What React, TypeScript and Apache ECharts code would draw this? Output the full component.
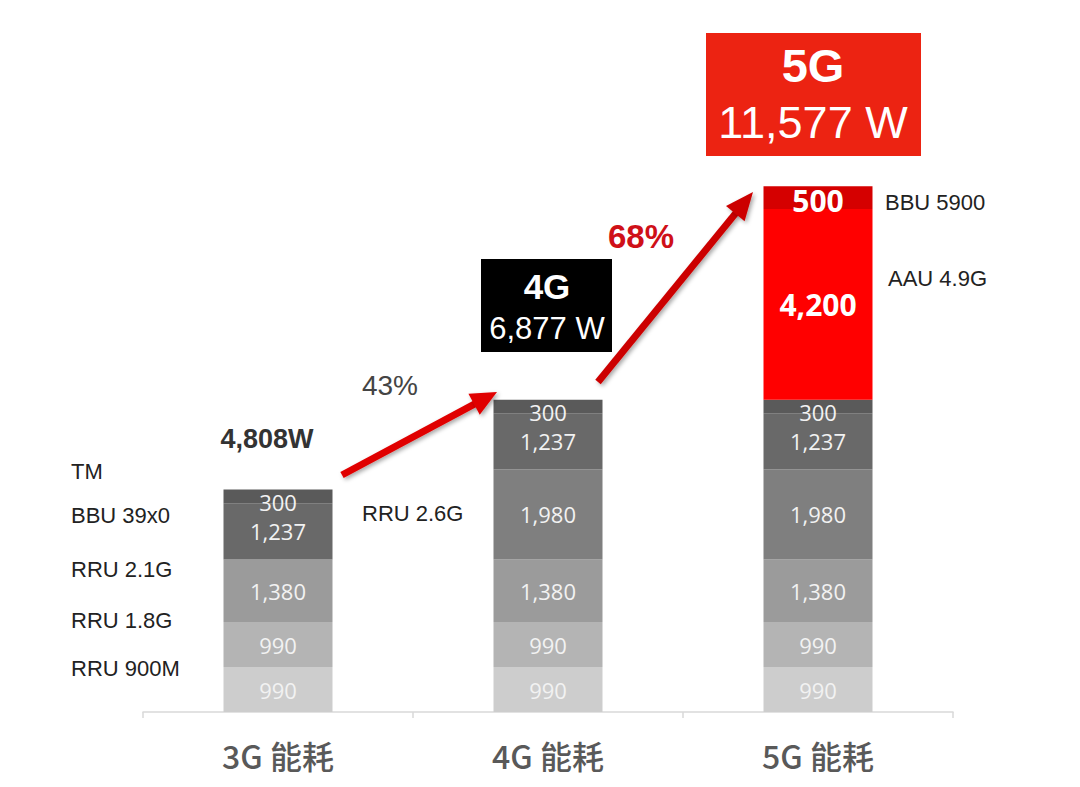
import React, { useEffect, useRef } from "react";
import * as echarts from "echarts";

const categories = ["3G 能耗", "4G 能耗", "5G 能耗"];
const rru900m = [990, 990, 990];
const rru18g = [990, 990, 990];
const rru21g = [1380, 1380, 1380];
const rru26g: (number | string)[] = ["-", 1980, 1980];
const bbu39x0 = [1237, 1237, 1237];
const tm = [300, 300, 300];
const aau49g: (number | string)[] = ["-", "-", 4200];
const bbu5900: (number | string)[] = ["-", "-", 500];

const BAR_FONT = "'Open Sans', 'Liberation Sans', sans-serif";
const SIDE_FONT = "'Liberation Sans', Arial, sans-serif";

function txt(text: string, x: number, y: number, font: string, fill: string, align = "left") {
  return {
    type: "text",
    z: 20,
    style: {
      text,
      x,
      y,
      font,
      fill,
      align,
      verticalAlign: "middle",
      textAlign: align,
      textVerticalAlign: "middle",
    },
  };
}

function arrow(x1: number, y1: number, x2: number, y2: number, color: string, w: number, headLen: number, headW: number) {
  const dx = x2 - x1;
  const dy = y2 - y1;
  const L = Math.hypot(dx, dy);
  const ux = dx / L;
  const uy = dy / L;
  const bx = x2 - ux * headLen;
  const by = y2 - uy * headLen;
  const px = -uy;
  const py = ux;
  const shadow = { shadowBlur: 4, shadowColor: "rgba(0,0,0,0.35)", shadowOffsetX: 2, shadowOffsetY: 2 };
  return [
    {
      type: "line",
      z: 15,
      shape: { x1, y1, x2: bx + ux * 3, y2: by + uy * 3 },
      style: { stroke: color, lineWidth: w, ...shadow },
    },
    {
      type: "polygon",
      z: 15,
      shape: {
        points: [
          [x2, y2],
          [bx + px * headW, by + py * headW],
          [bx - px * headW, by - py * headW],
        ],
      },
      style: { fill: color, ...shadow },
    },
  ];
}

function seg(name: string, data: (number | string)[], color: string, opts: any = {}) {
  return {
    name,
    type: "bar",
    stack: "total",
    barWidth: 109,
    data,
    itemStyle: { color },
    label: {
      show: true,
      position: "inside",
      color: "#f2f2f2",
      fontFamily: BAR_FONT,
      fontSize: 22,
      formatter: (p: any) => Number(p.value).toLocaleString("en-US"),
      ...(opts.label || {}),
    },
  };
}

export default function App() {
  const ref = useRef<HTMLDivElement>(null);
  useEffect(() => {
    document.body.style.margin = "0";
    if (!ref.current) return;
    const chart = echarts.init(ref.current, undefined, { renderer: "svg" });
    chart.setOption({
      animation: false,
      backgroundColor: "#ffffff",
      grid: { left: 143, right: 127, top: 167, bottom: 75 },
      xAxis: {
        type: "category",
        data: categories,
        axisLine: { lineStyle: { color: "#d9d9d9", width: 1.5 } },
        axisTick: { show: true, length: 6, lineStyle: { color: "#d9d9d9", width: 1.5 } },
        axisLabel: {
          color: "#595959",
          fontSize: 32,
          fontWeight: 500,
          fontFamily: "'Noto Sans CJK SC', sans-serif",
          margin: 27,
        },
      },
      yAxis: { type: "value", min: 0, max: 12000, show: false, splitLine: { show: false } },
      series: [
        seg("RRU 900M", rru900m, "#cdcdcd"),
        seg("RRU 1.8G", rru18g, "#b4b4b4"),
        seg("RRU 2.1G", rru21g, "#9b9b9b"),
        seg("RRU 2.6G", rru26g, "#7f7f7f"),
        seg("BBU 39x0", bbu39x0, "#696969"),
        seg("TM", tm, "#5a5a5a", { label: { offset: [0, 6] } }),
        seg("AAU 4.9G", aau49g, "#ff0000", { label: { fontSize: 30, fontWeight: "bold", color: "#ffffff" } }),
        seg("BBU 5900", bbu5900, "#d50000", { label: { fontSize: 30, fontWeight: "bold", color: "#ffffff", offset: [0, 3] } }),
      ],
      graphic: [
        // side labels
        txt("TM", 71, 471, `22px ${SIDE_FONT}`, "#222222"),
        txt("BBU 39x0", 71, 515, `22px ${SIDE_FONT}`, "#222222"),
        txt("RRU 2.1G", 71, 569, `22px ${SIDE_FONT}`, "#222222"),
        txt("RRU 1.8G", 71, 620, `22px ${SIDE_FONT}`, "#222222"),
        txt("RRU 900M", 71, 668, `22px ${SIDE_FONT}`, "#222222"),
        txt("RRU 2.6G", 362, 513, `22px ${SIDE_FONT}`, "#222222"),
        txt("BBU 5900", 885, 202, `22px ${SIDE_FONT}`, "#222222"),
        txt("AAU 4.9G", 888, 278, `22px ${SIDE_FONT}`, "#222222"),
        // totals & growth
        txt("4,808W", 267, 439, `bold 27px ${SIDE_FONT}`, "#333333", "center"),
        txt("43%", 390, 385, `28px ${SIDE_FONT}`, "#444444", "center"),
        txt("68%", 641, 236, `bold 33px ${SIDE_FONT}`, "#cf1018", "center"),
        // arrows
        ...arrow(342, 475, 497, 392, "#e00000", 7, 26, 12),
        ...arrow(598, 382, 753, 192, "#cc0000", 7, 28, 12),
        // 4G box
        {
          type: "rect",
          z: 18,
          shape: { x: 481, y: 259, width: 131, height: 93 },
          style: { fill: "#000000" },
        },
        txt("4G", 547, 286, `bold 35px ${SIDE_FONT}`, "#ffffff", "center"),
        txt("6,877 W", 547, 328, `31px ${SIDE_FONT}`, "#ffffff", "center"),
        // 5G box
        {
          type: "rect",
          z: 18,
          shape: { x: 706, y: 33, width: 215, height: 123 },
          style: { fill: "#ec2312" },
        },
        txt("5G", 813, 65, `bold 47px ${SIDE_FONT}`, "#ffffff", "center"),
        txt("11,577 W", 813, 122, `45px ${SIDE_FONT}`, "#ffffff", "center"),
      ],
    });
    return () => chart.dispose();
  }, []);
  return <div ref={ref} style={{ width: 1080, height: 787 }} />;
}
